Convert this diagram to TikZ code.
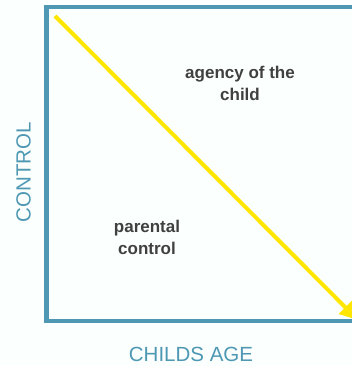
\documentclass[tikz,border=0pt]{standalone}
\usepackage{fontspec}
\setmainfont{Liberation Sans}
\usetikzlibrary{arrows.meta}

\definecolor{axisblue}{RGB}{78,152,180}
\definecolor{trendyellow}{RGB}{255,230,0}
\definecolor{labelgrey}{RGB}{64,64,64}
\definecolor{paper}{RGB}{251,255,253}

\begin{document}
\begin{tikzpicture}[x=1pt,y=-1pt,
  axis/.style={draw=axisblue,line width=4.5pt},
  axislabel/.style={text=axisblue,font=\fontsize{20.5}{24}\selectfont},
  region/.style={text=labelgrey,font=\fontsize{17}{22}\selectfont\bfseries,align=center},
  trend/.style={draw=trendyellow,line width=4pt,-{Triangle[length=18pt,width=18pt]}}]

\fill[paper] (0,0) rectangle (352,366);
\useasboundingbox (0,0) rectangle (352,366);
\clip (0,0) rectangle (352,366);

% axes
\coordinate (TopEnd) at (360,7);
\coordinate (TopLeft) at (46.5,7);
\coordinate (Origin) at (46.5,321);
\coordinate (RightEnd) at (360,321);
\draw[axis] (TopEnd) -- (TopLeft) -- (Origin) -- (RightEnd);

% arrow
\coordinate (TrendStart) at (55,16);
\coordinate (TrendEnd) at (358,320);
\draw[trend] (TrendStart) -- (TrendEnd);

\node[region] (agency) at (240,83) {agency of the\\child};
\node[region] (parental) at (147,237) {parental\\control};

\node[axislabel,rotate=90] (control) at (23.5,172) {CONTROL};
\node[axislabel] (age) at (191,354) {CHILDS AGE};
\end{tikzpicture}
\end{document}
